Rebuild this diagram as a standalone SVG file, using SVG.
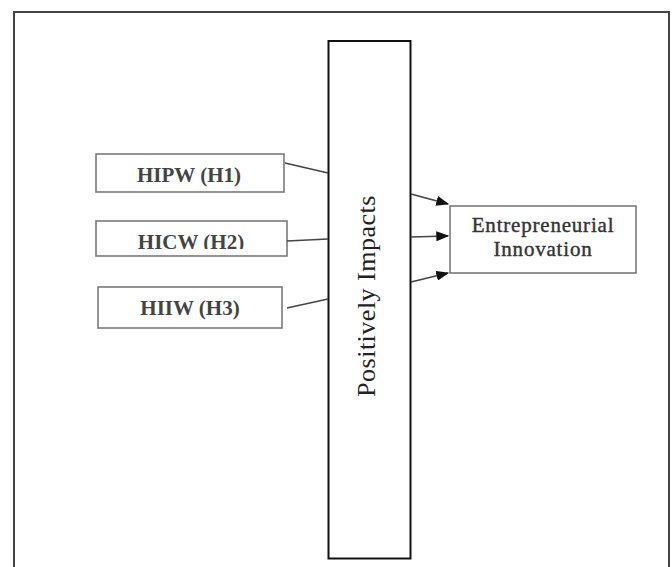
<svg xmlns="http://www.w3.org/2000/svg" width="672" height="567" viewBox="0 0 672 567">
<style>
.box{fill:#fff;stroke:#7a7a7a;stroke-width:1.6}
.lbl{font-family:"Liberation Serif",serif;font-size:21px;font-weight:bold;fill:#444;text-anchor:middle}
.ei{font-family:"Liberation Serif",serif;font-size:21px;letter-spacing:0.8px;fill:#333;text-anchor:middle;stroke:#333;stroke-width:0.4}
.ln{stroke:#444;stroke-width:1.6;fill:none}
</style>
<defs>
<marker id="ah" viewBox="0 0 10 10" refX="9" refY="5" markerWidth="13" markerHeight="10" markerUnits="userSpaceOnUse" orient="auto" preserveAspectRatio="none">
<path d="M0,0 L10,5 L0,10 Z" fill="#111"/>
</marker>
<clipPath id="c2"><rect x="96" y="221" width="191" height="28"/></clipPath>
</defs>
<rect width="672" height="567" fill="#fff"/>
<path d="M14,580 V12 H669 V580" fill="none" stroke="#444" stroke-width="2"/>
<g id="center">
<rect x="328.5" y="41" width="82" height="517.5" fill="#fff" stroke="#111" stroke-width="2"/>
<text transform="translate(375,296) rotate(-90)" font-family="Liberation Serif,serif" font-size="26" letter-spacing="0.5" fill="#222" text-anchor="middle">Positively Impacts</text>
</g>
<g id="hipw">
<rect class="box" x="96" y="154" width="188" height="38"/>
<text class="lbl" x="189" y="182">HIPW (H1)</text>
</g>
<g id="hicw">
<rect class="box" x="96" y="221" width="191" height="35"/>
<text class="lbl" x="191" y="249" clip-path="url(#c2)">HICW (H2)</text>
</g>
<g id="hiiw">
<rect class="box" x="98" y="287" width="184" height="41"/>
<text class="lbl" x="190" y="315">HIIW (H3)</text>
</g>
<g id="ei">
<rect class="box" x="450" y="206" width="186" height="67"/>
<text class="ei" x="543" y="232">Entrepreneurial</text>
<text class="ei" x="543" y="256">Innovation</text>
</g>
<g id="connectors">
<line class="ln" x1="285" y1="163" x2="328" y2="173"/>
<line class="ln" x1="287" y1="241" x2="328" y2="239"/>
<line class="ln" x1="287" y1="308" x2="328" y2="299"/>
<line class="ln" x1="411" y1="194" x2="448" y2="204" marker-end="url(#ah)"/>
<line class="ln" x1="411" y1="237" x2="448" y2="236" marker-end="url(#ah)"/>
<line class="ln" x1="411" y1="282" x2="448" y2="273" marker-end="url(#ah)"/>
</g>
</svg>
